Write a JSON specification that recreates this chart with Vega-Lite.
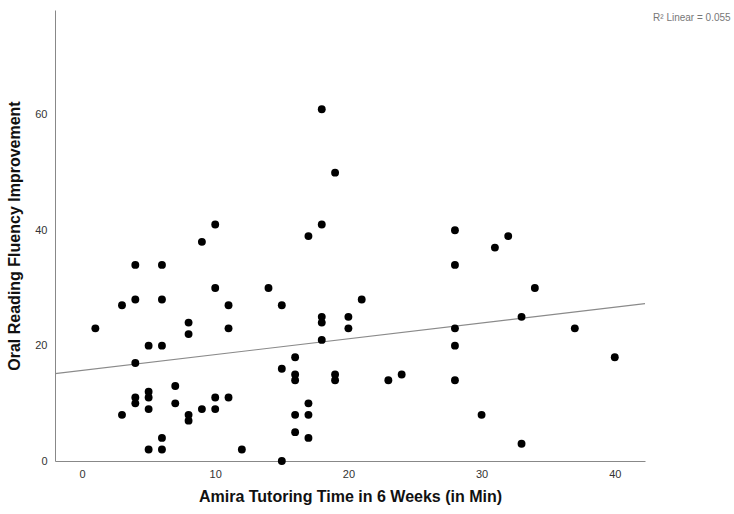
{
  "$schema": "https://vega.github.io/schema/vega-lite/v6.json",
  "width": 590,
  "height": 451,
  "autosize": {"type": "none"},
  "padding": {"left": 55, "top": 10, "right": 89, "bottom": 53},
  "background": "white",
  "config": {
    "view": {"stroke": null},
    "font": "Liberation Sans",
    "axis": {
      "grid": false,
      "ticks": false,
      "domainColor": "#888888",
      "domainWidth": 1,
      "labelColor": "#333333",
      "labelFontSize": 11,
      "labelFont": "Liberation Sans",
      "titleFont": "Liberation Sans",
      "titleFontSize": 16,
      "titleFontWeight": "bold",
      "titleColor": "#111111"
    }
  },
  "data": {
    "values": [
      {"time": 1, "improvement": 23}, {"time": 3, "improvement": 27}, {"time": 3, "improvement": 8},
      {"time": 4, "improvement": 34}, {"time": 4, "improvement": 28}, {"time": 4, "improvement": 17},
      {"time": 4, "improvement": 11}, {"time": 4, "improvement": 10}, {"time": 5, "improvement": 20},
      {"time": 5, "improvement": 12}, {"time": 5, "improvement": 11}, {"time": 5, "improvement": 9},
      {"time": 5, "improvement": 2}, {"time": 6, "improvement": 34}, {"time": 6, "improvement": 28},
      {"time": 6, "improvement": 20}, {"time": 6, "improvement": 4}, {"time": 6, "improvement": 2},
      {"time": 7, "improvement": 13}, {"time": 7, "improvement": 10}, {"time": 8, "improvement": 24},
      {"time": 8, "improvement": 22}, {"time": 8, "improvement": 8}, {"time": 8, "improvement": 7},
      {"time": 9, "improvement": 38}, {"time": 9, "improvement": 9}, {"time": 10, "improvement": 41},
      {"time": 10, "improvement": 30}, {"time": 10, "improvement": 11}, {"time": 10, "improvement": 9},
      {"time": 11, "improvement": 27}, {"time": 11, "improvement": 23}, {"time": 11, "improvement": 11},
      {"time": 12, "improvement": 2}, {"time": 14, "improvement": 30}, {"time": 15, "improvement": 27},
      {"time": 15, "improvement": 16}, {"time": 15, "improvement": 0}, {"time": 16, "improvement": 18},
      {"time": 16, "improvement": 15}, {"time": 16, "improvement": 14}, {"time": 16, "improvement": 8},
      {"time": 16, "improvement": 5}, {"time": 17, "improvement": 39}, {"time": 17, "improvement": 10},
      {"time": 17, "improvement": 8}, {"time": 17, "improvement": 4}, {"time": 18, "improvement": 61},
      {"time": 18, "improvement": 41}, {"time": 18, "improvement": 25}, {"time": 18, "improvement": 24},
      {"time": 18, "improvement": 21}, {"time": 19, "improvement": 50}, {"time": 19, "improvement": 15},
      {"time": 19, "improvement": 14}, {"time": 20, "improvement": 25}, {"time": 20, "improvement": 23},
      {"time": 21, "improvement": 28}, {"time": 23, "improvement": 14}, {"time": 24, "improvement": 15},
      {"time": 28, "improvement": 40}, {"time": 28, "improvement": 34}, {"time": 28, "improvement": 23},
      {"time": 28, "improvement": 20}, {"time": 28, "improvement": 14}, {"time": 30, "improvement": 8},
      {"time": 31, "improvement": 37}, {"time": 32, "improvement": 39}, {"time": 33, "improvement": 25},
      {"time": 33, "improvement": 3}, {"time": 34, "improvement": 30}, {"time": 37, "improvement": 23},
      {"time": 40, "improvement": 18}
    ]
  },
  "encoding": {
    "x": {
      "field": "time",
      "type": "quantitative",
      "scale": {"domain": [-2.03, 42.27], "nice": false, "zero": false},
      "axis": {"values": [0, 10, 20, 30, 40], "title": "Amira Tutoring Time in 6 Weeks (in Min)", "labelPadding": 7, "titlePadding": 9, "labelFlush": false}
    },
    "y": {
      "field": "improvement",
      "type": "quantitative",
      "scale": {"domain": [0, 78.2], "nice": false},
      "axis": {"values": [0, 20, 40, 60], "title": "Oral Reading Fluency Improvement", "labelPadding": 8, "titlePadding": 12, "labelFlush": false}
    }
  },
  "layer": [
    {
      "transform": [{"regression": "improvement", "on": "time", "extent": [-2.03, 42.27]}],
      "mark": {"type": "line", "color": "#8a8a8a", "strokeWidth": 1.2, "clip": true}
    },
    {
      "mark": {"type": "circle", "color": "#000000", "opacity": 1, "size": 62, "clip": false}
    },
    {
      "data": {"values": [{"time": 48.7, "improvement": 76.8, "label": "R² Linear = 0.055"}]},
      "mark": {"type": "text", "align": "right", "baseline": "middle", "fontSize": 10, "color": "#777777", "font": "Liberation Sans", "clip": false},
      "encoding": {"text": {"field": "label"}}
    }
  ]
}
